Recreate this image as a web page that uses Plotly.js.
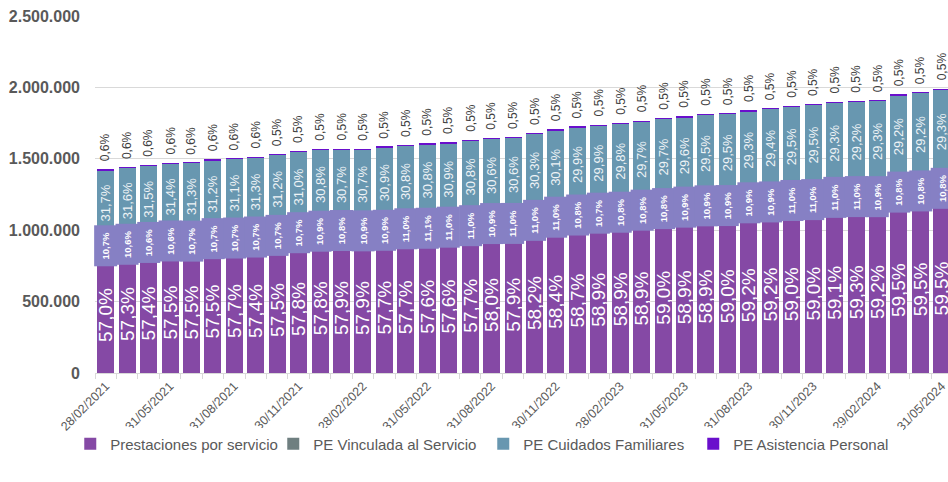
<!DOCTYPE html>
<html><head><meta charset="utf-8">
<script src="https://cdn.plot.ly/plotly-3.0.1.min.js"></script>
<style>html,body{margin:0;padding:0;background:#fff;} #chart{width:948px;height:482px;}</style>
</head><body><div id="chart"></div>
<script>
const categories = ["28/02/2021","31/03/2021","30/04/2021","31/05/2021","30/06/2021","31/07/2021","31/08/2021","30/09/2021","31/10/2021","30/11/2021","31/12/2021","31/01/2022","28/02/2022","31/03/2022","30/04/2022","31/05/2022","30/06/2022","31/07/2022","31/08/2022","30/09/2022","31/10/2022","30/11/2022","31/12/2022","31/01/2023","28/02/2023","31/03/2023","30/04/2023","31/05/2023","30/06/2023","31/07/2023","31/08/2023","30/09/2023","31/10/2023","30/11/2023","31/12/2023","31/01/2024","29/02/2024","31/03/2024","30/04/2024","31/05/2024"];
const tickLabels = ["28/02/2021","31/05/2021","31/08/2021","30/11/2021","28/02/2022","31/05/2022","31/08/2022","30/11/2022","28/02/2023","31/05/2023","31/08/2023","30/11/2023","29/02/2024","31/05/2024"];
const totals = [1425600,1441700,1453600,1472600,1474700,1495800,1502800,1514800,1535800,1552000,1570900,1570900,1570900,1587100,1596200,1608200,1615200,1634100,1644700,1652400,1683300,1706500,1729600,1739500,1753500,1769700,1788600,1799900,1818800,1823700,1842000,1856100,1870100,1884200,1899600,1906600,1915100,1950900,1968400,1990200];
const pctServicio = [57.0,57.3,57.4,57.5,57.5,57.5,57.7,57.4,57.5,57.8,57.8,57.9,57.9,57.7,57.7,57.6,57.6,57.7,58.0,57.9,58.2,58.4,58.7,58.9,58.9,58.9,59.0,58.9,58.9,59.0,59.2,59.2,59.0,59.0,59.1,59.3,59.2,59.5,59.5,59.5];
const pctVinculada = [10.7,10.6,10.6,10.6,10.7,10.7,10.7,10.7,10.7,10.7,10.9,10.8,10.9,10.9,11.0,11.1,11.0,11.0,10.9,11.0,11.0,11.0,10.8,10.7,10.8,10.8,10.8,10.9,10.9,10.9,10.9,10.9,11.0,11.0,11.0,11.0,10.9,10.8,10.8,10.8];
const pctCuidados = [31.7,31.6,31.5,31.4,31.3,31.2,31.1,31.3,31.2,31.0,30.8,30.7,30.7,30.9,30.8,30.8,30.9,30.8,30.6,30.6,30.3,30.1,29.9,29.9,29.8,29.7,29.7,29.6,29.5,29.5,29.3,29.4,29.5,29.5,29.3,29.2,29.3,29.2,29.2,29.3];
const pctAsistencia = [0.6,0.6,0.6,0.6,0.6,0.6,0.6,0.6,0.5,0.5,0.5,0.5,0.5,0.5,0.5,0.5,0.5,0.5,0.5,0.5,0.5,0.5,0.5,0.5,0.5,0.5,0.5,0.5,0.5,0.5,0.5,0.5,0.5,0.5,0.5,0.5,0.5,0.5,0.5,0.5];
const seriesNames = ["Prestaciones por servicio","PE Vinculada al Servicio","PE Cuidados Familiares","PE Asistencia Personal"];

const FONT = 'Liberation Sans, Arial, sans-serif';
const fmt = p => p.toFixed(1).replace('.', ',') + '%';
const seg = pct => totals.map((t, i) => t * pct[i] / 100);
const vServ = seg(pctServicio), vVinc = seg(pctVinculada), vCuid = seg(pctCuidados), vAsis = seg(pctAsistencia);
const tops = totals.map((t, i) => vServ[i] + vVinc[i] + vCuid[i] + vAsis[i]);

const common = {type: 'bar', x: categories, hoverinfo: 'skip'};
const traces = [
  Object.assign({}, common, {name: seriesNames[0], y: vServ, marker: {color: '#8549A5'}, legendwidth: 158,
    text: pctServicio.map(fmt), textposition: 'inside', insidetextanchor: 'middle', textangle: -90,
    constraintext: 'none', textfont: {family: FONT, size: 19, color: '#FFFFFF'}}),
  Object.assign({}, common, {name: seriesNames[1], y: vVinc, marker: {color: '#6F7F80'}, legendwidth: 165}),
  Object.assign({}, common, {name: seriesNames[2], y: vCuid, marker: {color: '#6897B0'}, legendwidth: 165,
    text: pctCuidados.map(fmt), textposition: 'inside', insidetextanchor: 'middle', textangle: -90,
    constraintext: 'none', textfont: {family: FONT, size: 13, color: '#EEF3F6'}}),
  Object.assign({}, common, {name: seriesNames[3], y: vAsis, marker: {color: '#6A0FCC'}, legendwidth: 165})
];

const annotations = [];
categories.forEach((c, i) => {
  annotations.push({x: c, y: vServ[i] + vVinc[i] / 2, xref: 'x', yref: 'y', showarrow: false,
    text: '<b>' + fmt(pctVinculada[i]) + '</b>', textangle: -90, bgcolor: '#8680C4',
    width: 38, height: 20, borderpad: 1, xanchor: 'center', yanchor: 'middle',
    font: {family: FONT, size: 9.5, color: '#FFFFFF'}});
  annotations.push({x: c, y: tops[i], xref: 'x', yref: 'y', showarrow: false,
    text: fmt(pctAsistencia[i]), textangle: -90, xanchor: 'center', yanchor: 'bottom', yshift: 6,
    font: {family: FONT, size: 12, color: '#404040'}});
});

const layout = {
  width: 948, height: 482,
  margin: {l: 95, r: 0, t: 16, b: 109, pad: 0},
  barmode: 'stack', bargap: 0.207,
  separators: ',.',
  paper_bgcolor: '#FFFFFF', plot_bgcolor: '#FFFFFF',
  font: {family: FONT, color: '#595959'},
  xaxis: {type: 'category', range: [-0.5, 39.29],
    tickvals: categories, ticktext: categories.map(c => tickLabels.includes(c) ? c : ''),
    tickangle: -45, tickfont: {family: FONT, size: 12.5, color: '#595959'},
    ticks: 'outside', tickson: 'boundaries', ticklen: 5, tickcolor: '#D9D9D9',
    showline: true, linecolor: '#D9D9D9', linewidth: 1, showgrid: false, fixedrange: true},
  yaxis: {range: [0, 2500000], tick0: 0, dtick: 500000, tickformat: ',d',
    showgrid: true, gridcolor: '#D9D9D9', gridwidth: 1, zeroline: false, showline: false,
    ticks: '', tickfont: {family: FONT, size: 16, color: '#595959', weight: 'bold'},
    ticklabelstandoff: 14, fixedrange: true},
  showlegend: true,
  legend: {orientation: 'h', x: -0.029, xanchor: 'left', y: -0.199, yanchor: 'middle',
    font: {family: FONT, size: 15, color: '#595959'}, traceorder: 'normal', itemwidth: 30},
  annotations: annotations
};

Plotly.newPlot('chart', traces, layout, {displayModeBar: false, staticPlot: true});
</script></body></html>
